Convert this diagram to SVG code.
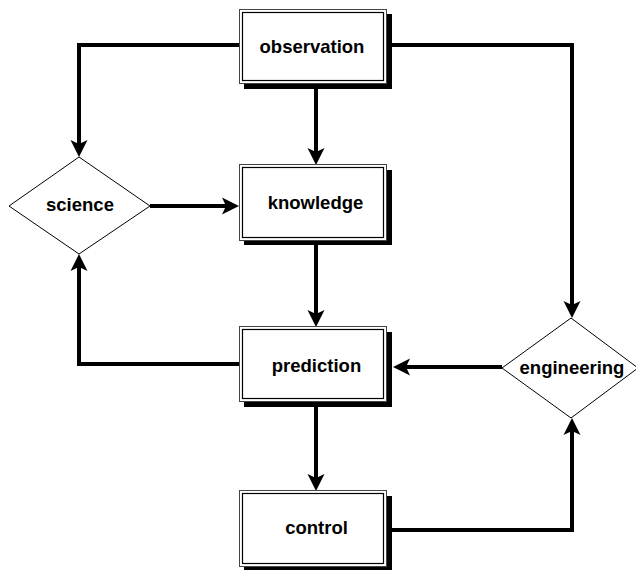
<svg xmlns="http://www.w3.org/2000/svg" width="636" height="570" viewBox="0 0 636 570">
<style>
.shadow{fill:#000}
.outer{fill:#fff;stroke:#444;stroke-width:1}
.inner{fill:none;stroke:#000;stroke-width:1.2}
.dia{fill:#fff;stroke:#000;stroke-width:1}
.lbl{font-family:"Liberation Sans",Arial,sans-serif;font-weight:bold;font-size:18.5px;fill:#000;text-anchor:middle}
.conn{fill:none;stroke:#000;stroke-width:4;stroke-linejoin:miter}
</style>
<defs>
<marker id="arr" markerUnits="userSpaceOnUse" viewBox="-6 -10 22 20" refX="0" refY="0" markerWidth="22" markerHeight="20" orient="auto">
<path d="M-4,-8.5 L13,0 L-4,8.5 L0,0 z" fill="#000"/>
</marker>
</defs>
<rect width="636" height="570" fill="#fff"/>
<g id="connectors">
<path class="conn" d="M239,45 H79 V144" marker-end="url(#arr)"/>
<path class="conn" d="M387,45 H572 V305" marker-end="url(#arr)"/>
<path class="conn" d="M316,84 V152" marker-end="url(#arr)"/>
<path class="conn" d="M150,206 H226" marker-end="url(#arr)"/>
<path class="conn" d="M316,240 V314" marker-end="url(#arr)"/>
<path class="conn" d="M239,364 H79 V267" marker-end="url(#arr)"/>
<path class="conn" d="M502,367 H406" marker-end="url(#arr)"/>
<path class="conn" d="M316,402 V478" marker-end="url(#arr)"/>
<path class="conn" d="M392,530 H572 V431" marker-end="url(#arr)"/>
</g>
<g id="observation">
<rect class="shadow" x="244" y="14" width="148" height="75"/>
<rect class="outer" x="239.5" y="9.5" width="147" height="74"/>
<rect class="inner" x="242.5" y="12.5" width="141" height="68"/>
<text class="lbl" x="312" y="53">observation</text>
</g>
<g id="knowledge">
<rect class="shadow" x="244" y="170" width="148" height="75"/>
<rect class="outer" x="239.5" y="164.5" width="147" height="76"/>
<rect class="inner" x="242.5" y="167.5" width="141" height="70"/>
<text class="lbl" x="315.5" y="209">knowledge</text>
</g>
<g id="prediction">
<rect class="shadow" x="244" y="332" width="148" height="75"/>
<rect class="outer" x="239.5" y="326.5" width="147" height="75"/>
<rect class="inner" x="242.5" y="329.5" width="141" height="69"/>
<text class="lbl" x="316.5" y="372">prediction</text>
</g>
<g id="control">
<rect class="shadow" x="244" y="496" width="148" height="76"/>
<rect class="outer" x="239.5" y="490.5" width="147" height="76"/>
<rect class="inner" x="242.5" y="493.5" width="141" height="70"/>
<text class="lbl" x="316.5" y="534">control</text>
</g>
<g id="science">
<polygon class="dia" points="79,157 150,206 79,254 9,206"/>
<text class="lbl" x="80" y="211">science</text>
</g>
<g id="engineering">
<polygon class="dia" points="571,318 638,368 571,418 502,368"/>
<text class="lbl" x="572" y="374">engineering</text>
</g>
</svg>
